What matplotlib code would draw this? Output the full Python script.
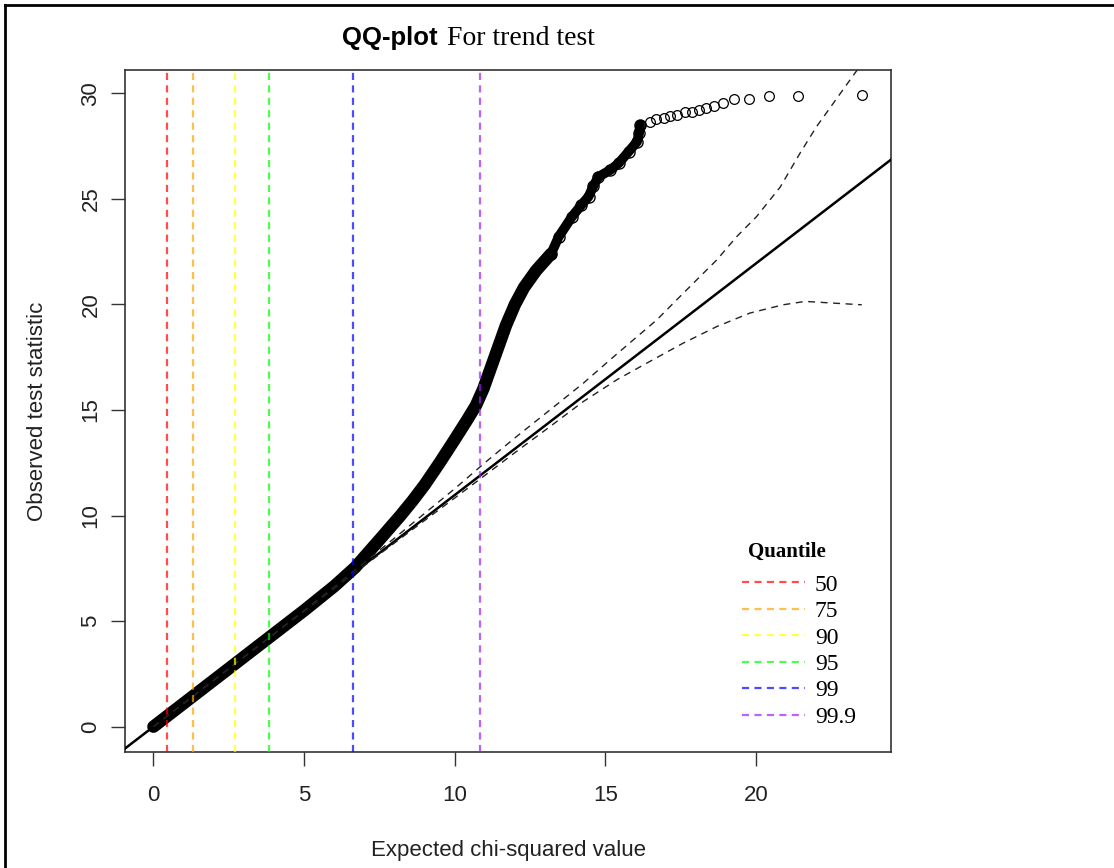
import matplotlib
matplotlib.use("Agg")
import matplotlib.pyplot as plt
from matplotlib.lines import Line2D

# values
dense_expected = [0, 0.5, 1.0, 2.0, 3.0, 4.0, 5.0, 6.0, 6.7, 7.5, 8.2, 8.6, 9.0, 9.5, 10.0,
                  10.4, 10.7, 10.95, 11.2, 11.45, 11.7, 12.0, 12.3, 12.7, 13.2]
dense_observed = [0, 0.55, 1.1, 2.2, 3.3, 4.4, 5.5, 6.65, 7.55, 8.85, 10.0, 10.7, 11.45, 12.5, 13.6,
                  14.5, 15.2, 16.0, 17.0, 18.0, 19.0, 20.0, 20.8, 21.6, 22.4]

upper_expected = [13.2, 13.45, 13.89, 14.2, 14.44, 14.6, 14.77, 15.16, 15.44, 15.77,
                  16.05, 16.12, 16.15]
upper_observed = [22.4, 23.2, 24.15, 24.7, 25.1, 25.6, 26.04, 26.36, 26.68, 27.23,
                  27.7, 28.1, 28.5]

tail_expected = [16.15, 16.48, 16.68, 16.93, 17.15, 17.37, 17.65, 17.87, 18.11, 18.34,
                 18.62, 18.92, 19.28, 19.78, 20.43, 21.38, 23.51]
tail_observed = [28.50, 28.66, 28.79, 28.85, 28.93, 28.98, 29.10, 29.13, 29.21, 29.29,
                 29.40, 29.53, 29.73, 29.72, 29.88, 29.88, 29.92]

env_up_x = [0, 2, 4, 6, 8, 10, 11, 12, 13.17, 14.27, 15.16, 15.93, 16.71, 17.37, 18.03,
            18.70, 19.36, 20.02, 20.8, 21.46, 22.01, 23.12, 23.51]
env_up_y = [0, 2.2, 4.4, 6.62, 8.93, 11.27, 12.5, 13.68, 15.01, 16.27, 17.38, 18.32, 19.27,
            20.22, 21.16, 22.11, 23.21, 24.16, 25.55, 27.16, 28.42, 30.63, 31.4]
env_lo_x = [0, 2, 4, 6, 8, 10, 11, 12, 13.17, 14.27, 15.38, 16.48, 17.59, 18.70, 19.80,
            20.9, 21.63, 23.51]
env_lo_y = [0, 2.19, 4.38, 6.55, 8.7, 10.83, 11.9, 12.98, 14.22, 15.40, 16.43, 17.30,
            18.17, 18.95, 19.59, 19.98, 20.14, 19.98]

gc_lambda = 1.097

quantile_labels = ["50", "75", "90", "95", "99", "99.9"]
quantile_values = [0.455, 1.323, 2.706, 3.841, 6.635, 10.828]
quantile_colors = ["red", "orange", "yellow", "#00ff00", "blue", "#a020f0"]

x_ticks = [0, 5, 10, 15, 20]
y_ticks = [0, 5, 10, 15, 20, 25, 30]

W, H = 1114, 868
fig = plt.figure(figsize=(W / 100, H / 100), dpi=100)
ax = fig.add_axes([125 / W, 1 - 752 / H, (891 - 125) / W, (752 - 70) / H])

sans = "Liberation Sans"
serif = "Liberation Serif"

# observed points
ax.plot(dense_expected, dense_observed, color="black", lw=9, solid_capstyle="round",
        solid_joinstyle="round", zorder=3)
ax.plot(upper_expected, upper_observed, color="black", lw=7, solid_capstyle="round",
        solid_joinstyle="round", zorder=3)
ax.plot(upper_expected, upper_observed, ls="none", marker="o", ms=8, mfc="none",
        mec="black", mew=1.0, zorder=3)
ax.plot(tail_expected, tail_observed, ls="none", marker="o", ms=7, mfc="none",
        mec="black", mew=0.9, zorder=3)

# expected line and envelope
ax.axline((0, 0), slope=gc_lambda, color="black", lw=1.8, zorder=4)
ax.plot(env_up_x, env_up_y, color="#222222", lw=1.0, ls=(0, (5, 4)), zorder=4)
ax.plot(env_lo_x, env_lo_y, color="#222222", lw=1.0, ls=(0, (5, 4)), zorder=4)

# quantile lines
for val, col, lab in zip(quantile_values, quantile_colors, quantile_labels):
    ax.axvline(val, color=col, alpha=0.7, lw=1.6, ls=(0, (3.2, 2.4)), zorder=5, label=lab)

ax.set_xlim(-0.944, 24.48)
ax.set_ylim(-1.2, 31.1)
ax.set_xticks(x_ticks)
ax.set_yticks(y_ticks)
ax.tick_params(axis="both", direction="out", length=10, width=1.0, labelsize=16,
               color="#333333", labelcolor="#222222")
ax.tick_params(axis="x", pad=14)
ax.tick_params(axis="y", pad=7)
for lab in ax.get_xticklabels() + ax.get_yticklabels():
    lab.set_fontfamily(sans)
for lab in ax.get_yticklabels():
    lab.set_rotation(90)
    lab.set_va("center")
for sp in ax.spines.values():
    sp.set_linewidth(1.2)
    sp.set_color("#333333")

ax.set_xlabel("Expected chi-squared value", fontsize=16, family=sans, color="#222222",
              labelpad=24)
ax.set_ylabel("Observed test statistic", fontsize=16, family=sans, color="#222222",
              labelpad=23)

# title in two fonts
fig.text(438 / W, 1 - 45 / H, "QQ-plot", ha="right", va="baseline", fontsize=18.5,
         fontweight="bold", family=sans)
fig.text(447 / W, 1 - 45 / H, "For trend test", ha="left", va="baseline", fontsize=20,
         family=serif)

# legend
fig.text(748 / W, 1 - 552 / H, "Quantile", ha="left", va="center", fontsize=15,
         fontweight="bold", family=serif)
leg = ax.legend(loc="upper left", bbox_to_anchor=(742 / W, 1 - 574 / H),
                bbox_transform=fig.transFigure, frameon=False, borderpad=0,
                borderaxespad=0, handlelength=2.67, handletextpad=0.42,
                labelspacing=0.21, prop={"family": serif, "size": 17})
for h in leg.legend_handles:
    h.set_linewidth(1.6)
    h.set_alpha(0.7)

# outer frame (top and left edge only)
fig.add_artist(Line2D([5 / W, 1], [1 - 5 / H, 1 - 5 / H], color="black", lw=2,
                      transform=fig.transFigure))
fig.add_artist(Line2D([5 / W, 5 / W], [0, 1 - 5 / H], color="black", lw=2,
                      transform=fig.transFigure))

fig.savefig("out.png", dpi=100)
